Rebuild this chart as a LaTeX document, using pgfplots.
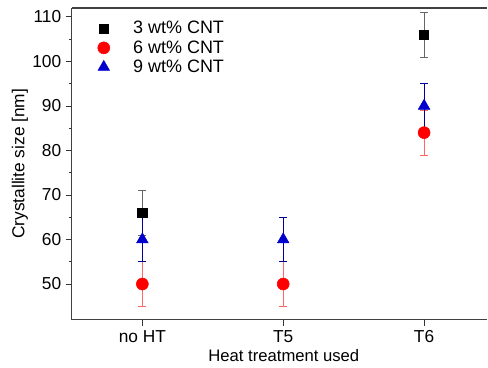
\documentclass[border=0pt]{standalone}
\usepackage{pgfplots}
\pgfplotsset{compat=1.18}
\usepackage{fontspec}
\setmainfont{Liberation Sans}
\begin{document}
\begin{tikzpicture}
\begin{axis}[
 scale only axis, width=312pt, height=234pt,
 xmin=-0.5, xmax=2.45, ymin=42, ymax=112,
 axis x line*=box, axis y line*=left,
 xtick={0,1,2}, xticklabels={no HT, T5, T6},
 ytick={50,60,...,110}, minor y tick num=1,
 tick align=outside, xtick pos=bottom, ytick pos=left,
 major tick length=4.5pt, minor tick length=2.5pt,
 tick style={black!80, line width=0.6pt},
 axis line style={line width=0.8pt, black!75},
 /pgf/number format/assume math mode=true,
 ticklabel style={font=\fontsize{13}{15}\selectfont},
 every axis x label/.style={at={(axis description cs:0.51,-0.115)}, anchor=center, font=\fontsize{12.5}{15}\selectfont},
 every axis y label/.style={at={(axis description cs:-0.125,0.5)}, rotate=90, anchor=center, font=\fontsize{13}{15}\selectfont},
 xlabel={Heat treatment used}, ylabel={Crystallite size [nm]},
 legend style={draw=none, fill=none, at={(0.052,0.975)}, anchor=north west,
   font=\fontsize{13.5}{15}\selectfont, row sep=-0.5pt},
 legend cell align=left,
]
\addplot+[only marks, mark=square*, mark size=3.5pt, mark options={black, fill=black},
  error bars/.cd, y dir=both, y explicit,
  error bar style={black!60, line width=0.4pt},
  error mark options={rotate=90, black!60, mark size=3pt, line width=0.4pt}]
  coordinates {(0,66) +- (0,5) (2,106) +- (0,5)};
\addlegendentry{\hspace{15.5pt}3 wt\% CNT}
\addplot+[only marks, mark=*, mark size=4.5pt, mark options={red, fill=red},
  error bars/.cd, y dir=both, y explicit,
  error bar style={red!60, line width=0.4pt},
  error mark options={rotate=90, red!60, mark size=3pt, line width=0.4pt}]
  coordinates {(0,50) +- (0,5) (1,50) +- (0,5) (2,84) +- (0,5)};
\addlegendentry{\hspace{15.5pt}6 wt\% CNT}
\addplot+[only marks, mark=triangle*, mark size=5pt, mark options={blue!80!black, fill=blue!80!black},
  error bars/.cd, y dir=both, y explicit,
  error bar style={blue!60!black, line width=0.4pt},
  error mark options={rotate=90, blue!60!black, mark size=3pt, line width=0.4pt}]
  coordinates {(0,60) +- (0,5) (1,60) +- (0,5) (2,90) +- (0,5)};
\addlegendentry{\hspace{15.5pt}9 wt\% CNT}
\end{axis}
\path ([xshift=-54pt,yshift=-36pt]current axis.south west) rectangle ([yshift=6pt]current axis.north east);
\end{tikzpicture}
\end{document}
